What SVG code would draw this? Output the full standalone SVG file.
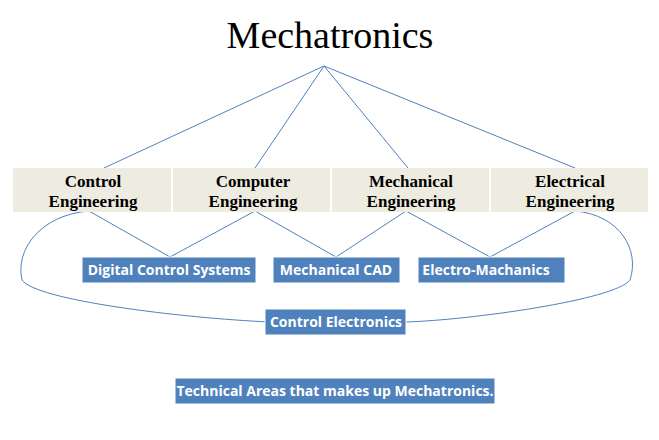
<svg xmlns="http://www.w3.org/2000/svg" width="659" height="440" viewBox="0 0 659 440">
<style>
.h{font-family:"Liberation Serif",serif;font-weight:bold;font-size:17px;fill:#000;text-anchor:middle}
.b{font-family:"Open Sans","Liberation Sans",sans-serif;font-weight:bold;font-size:14px;fill:#fff;text-anchor:middle}
.bx{fill:#4f81bd;stroke:#fff;stroke-width:1}
.cell{fill:#eeece1}
.c{fill:none;stroke:#4f81bd;stroke-width:1}
</style>
<rect width="659" height="440" fill="#fff"/>
<g id="title"><text x="330" y="48" font-family="Liberation Serif,serif" font-size="38" text-anchor="middle">Mechatronics</text></g>
<g id="connectors">
<path class="c" d="M324 66L104 168M324 66L255 168M324 66L408 168M324 66L575 168"/>
<path class="c" d="M89 211L170 257M255 211L170 257M255 211L336 257M406 211L336 257M406 211L490 257M575 211L490 257"/>
<path class="c" d="M89 211C40 215 15 250 22 280C35 300 180 318 270 322"/>
<path class="c" d="M575 211C620 215 640 250 630 280C615 300 470 320 406 322"/>
</g>
<g id="control-eng"><rect class="cell" x="13" y="168" width="158" height="44"/><text class="h" x="93" y="187">Control</text><text class="h" x="93" y="207">Engineering</text></g>
<g id="computer-eng"><rect class="cell" x="173" y="168" width="157" height="44"/><text class="h" x="253" y="187">Computer</text><text class="h" x="253" y="207">Engineering</text></g>
<g id="mech-eng"><rect class="cell" x="332" y="168" width="157" height="44"/><text class="h" x="411" y="187">Mechanical</text><text class="h" x="411" y="207">Engineering</text></g>
<g id="elec-eng"><rect class="cell" x="491" y="168" width="157" height="44"/><text class="h" x="570" y="187">Electrical</text><text class="h" x="570" y="207">Engineering</text></g>
<g id="dcs"><rect class="bx" x="82" y="257" width="174" height="26"/><text class="b" x="169" y="275">Digital Control Systems</text></g>
<g id="cad"><rect class="bx" x="273" y="257" width="127" height="26"/><text class="b" x="336" y="275">Mechanical CAD</text></g>
<g id="em"><rect class="bx" x="418" y="257" width="147" height="26"/><text class="b" x="486" y="275">Electro-Machanics</text></g>
<g id="ce"><rect class="bx" x="265" y="309" width="141" height="26"/><text class="b" x="336" y="327">Control Electronics</text></g>
<g id="caption"><rect class="bx" x="175" y="378" width="320" height="26"/><text class="b" x="335" y="396" font-size="13.5">Technical Areas that makes up Mechatronics.</text></g>
</svg>
